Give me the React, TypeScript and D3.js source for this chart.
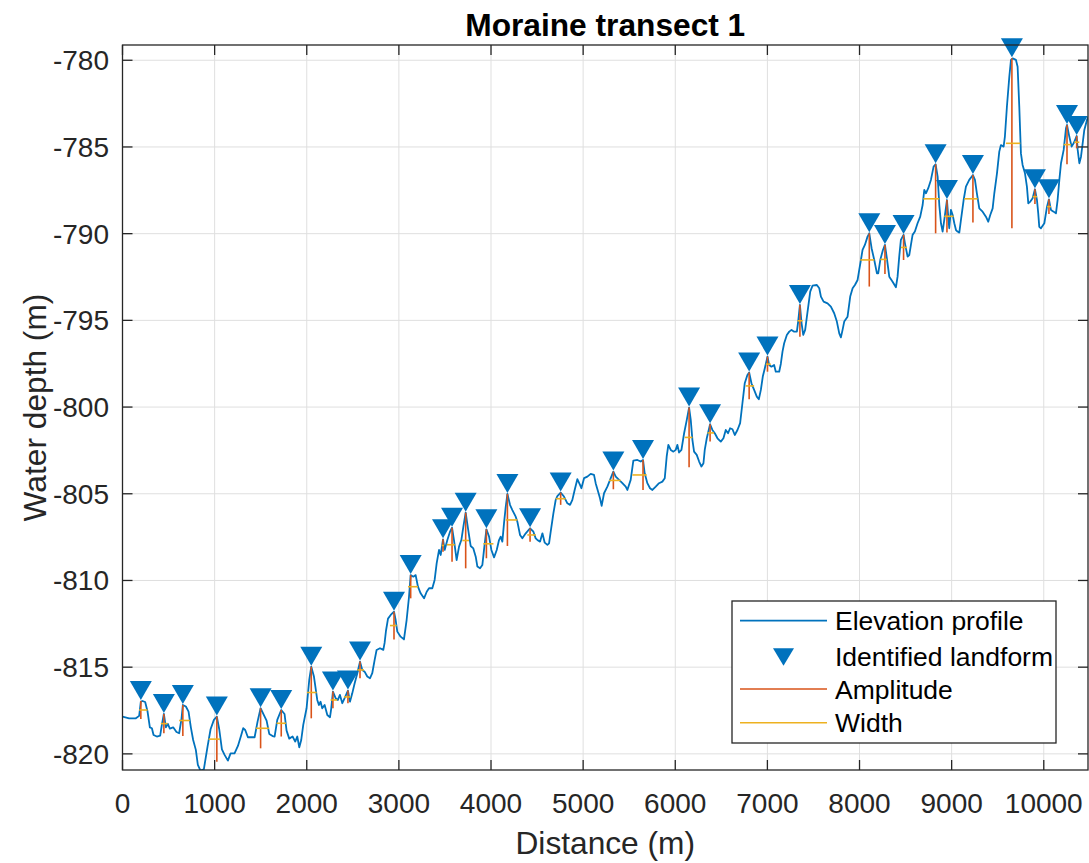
import React from 'react';
import * as d3 from 'd3';

// Elevation profile (distance in m, water depth in m)
const distance = [
  0, 72, 145, 181, 199, 217, 246, 272, 297, 319, 337, 373, 409, 427, 449, 471, 492, 514, 550, 586,
  615, 641, 655, 688, 717, 742, 767, 796, 818, 847, 883, 923, 956, 992, 1024, 1050, 1079, 1108, 1144, 1173,
  1216, 1253, 1289, 1310, 1332, 1361, 1434, 1466, 1499, 1535, 1564, 1593, 1629, 1651, 1680, 1723, 1759, 1781, 1810, 1846,
  1875, 1897, 1919, 1940, 1962, 1998, 2027, 2049, 2078, 2114, 2132, 2150, 2168, 2194, 2223, 2252, 2266, 2284, 2313, 2338,
  2360, 2386, 2411, 2447, 2469, 2494, 2520, 2549, 2578, 2603, 2628, 2657, 2686, 2711, 2737, 2758, 2795, 2831, 2845, 2860,
  2882, 2911, 2947, 2965, 2983, 3019, 3055, 3084, 3110, 3128, 3157, 3182, 3207, 3236, 3273, 3302, 3327, 3363, 3388, 3410,
  3436, 3454, 3479, 3497, 3526, 3555, 3577, 3598, 3627, 3653, 3678, 3700, 3725, 3750, 3779, 3808, 3834, 3852, 3881, 3906,
  3924, 3950, 3979, 4004, 4033, 4062, 4087, 4105, 4123, 4141, 4160, 4178, 4207, 4232, 4268, 4286, 4315, 4340, 4377, 4424,
  4460, 4485, 4503, 4532, 4558, 4583, 4612, 4630, 4648, 4677, 4702, 4720, 4756, 4792, 4829, 4858, 4883, 4908, 4937, 4966,
  4981, 5010, 5046, 5082, 5118, 5136, 5162, 5183, 5201, 5227, 5263, 5292, 5328, 5354, 5390, 5426, 5462, 5480, 5516, 5545,
  5589, 5625, 5650, 5668, 5697, 5726, 5752, 5788, 5824, 5860, 5886, 5907, 5925, 5951, 5980, 6005, 6023, 6041, 6067, 6096,
  6125, 6150, 6168, 6186, 6204, 6233, 6259, 6284, 6306, 6320, 6342, 6378, 6403, 6429, 6458, 6494, 6523, 6548, 6573, 6595,
  6621, 6646, 6675, 6704, 6729, 6754, 6783, 6802, 6827, 6856, 6885, 6907, 6929, 6950, 6972, 7001, 7019, 7044, 7073, 7091,
  7128, 7146, 7164, 7182, 7211, 7237, 7262, 7291, 7320, 7334, 7353, 7371, 7389, 7410, 7436, 7465, 7490, 7537, 7563, 7581,
  7610, 7653, 7689, 7725, 7754, 7780, 7798, 7816, 7834, 7870, 7899, 7925, 7950, 7979, 7997, 8015, 8033, 8058, 8087, 8106,
  8131, 8160, 8189, 8203, 8225, 8254, 8276, 8297, 8323, 8359, 8395, 8413, 8431, 8449, 8478, 8493, 8522, 8540, 8558, 8576,
  8601, 8630, 8659, 8685, 8703, 8721, 8746, 8775, 8804, 8826, 8848, 8866, 8884, 8902, 8920, 8949, 8963, 8974, 8992, 9011,
  9029, 9047, 9064, 9083, 9101, 9130, 9155, 9191, 9231, 9253, 9274, 9300, 9336, 9372, 9397, 9419, 9445, 9463, 9492, 9517,
  9535, 9564, 9578, 9600, 9626, 9644, 9662, 9698, 9716, 9734, 9752, 9770, 9796, 9817, 9832, 9854, 9879, 9904, 9926, 9940,
  9951, 9969, 10006, 10035, 10056, 10078, 10107, 10132, 10150, 10169, 10187, 10216, 10241, 10252, 10277, 10302, 10324, 10357, 10368, 10386,
  10404, 10422, 10440, 10469, 10494,
];
const depth = [
  -817.85, -817.95, -817.95, -817.81, -816.99, -816.95, -817.01, -817.56, -818.47, -818.52, -818.91, -819.0, -818.95, -818.33, -817.7, -818.47, -818.27, -818.54, -818.47, -818.74,
  -818.81, -817.95, -817.18, -817.27, -817.56, -818.47, -819.2, -819.77, -820.64, -820.97, -820.89, -819.58, -818.58, -818.04, -817.85, -818.58, -819.74, -820.06, -820.39, -819.97,
  -819.97, -819.54, -818.91, -818.52, -818.62, -819.04, -819.04, -818.14, -817.37, -817.76, -818.08, -818.85, -818.97, -819.0, -818.04, -817.47, -817.7, -818.66, -819.12, -819.0,
  -819.29, -819.0, -819.62, -819.2, -818.33, -817.37, -815.74, -814.97, -815.54, -816.89, -817.18, -816.99, -817.37, -817.18, -817.76, -817.89, -817.37, -816.41, -816.79, -816.89,
  -816.6, -817.08, -816.79, -816.35, -816.99, -816.51, -815.93, -815.35, -814.68, -815.16, -815.26, -815.54, -815.64, -815.35, -814.58, -814.01, -813.91, -814.0, -813.6, -812.9,
  -812.2, -811.99, -811.8, -812.28, -812.95, -813.24, -813.4, -812.28, -810.94, -809.69, -809.78, -809.69, -810.36, -810.74, -811.03, -810.65, -810.45, -810.45, -809.97, -809.01,
  -808.24, -808.53, -807.63, -808.24, -807.67, -807.19, -806.96, -807.67, -808.82, -808.05, -807.67, -806.9, -806.09, -806.99, -808.01, -808.15, -808.63, -809.2, -809.3, -809.11,
  -808.24, -807.05, -807.47, -808.24, -808.67, -808.24, -807.67, -807.47, -807.76, -806.71, -805.74, -805.01, -805.65, -805.94, -806.32, -806.61, -807.38, -807.57, -807.28, -806.99,
  -807.19, -807.57, -807.66, -807.76, -807.28, -807.82, -807.95, -807.86, -807.18, -806.13, -805.36, -805.13, -804.93, -805.16, -805.55, -805.64, -805.35, -804.78, -804.16, -804.49,
  -804.68, -804.1, -804.01, -803.85, -803.91, -804.39, -804.87, -805.26, -805.7, -804.97, -804.59, -804.2, -803.72, -804.01, -804.2, -804.39, -804.59, -804.78, -804.2, -803.09,
  -803.05, -803.14, -803.05, -803.82, -804.39, -804.68, -804.78, -804.59, -804.39, -804.3, -804.1, -802.85, -802.18, -802.47, -802.57, -802.47, -802.18, -802.62, -802.47, -801.51,
  -800.74, -800.03, -800.74, -801.89, -802.57, -802.76, -803.14, -803.43, -803.24, -802.47, -801.8, -800.99, -801.32, -801.51, -801.8, -801.99, -801.8, -801.32, -801.51, -801.22,
  -801.28, -801.61, -801.32, -800.93, -799.78, -798.63, -798.15, -798.01, -798.63, -799.01, -799.4, -799.55, -799.01, -798.24, -797.76, -797.09, -797.57, -797.67, -797.57, -797.96,
  -797.96, -797.5, -796.8, -796.32, -795.84, -795.65, -795.55, -795.65, -795.65, -795.07, -794.11, -795.17, -795.84, -795.55, -794.5, -793.34, -793.0, -792.96, -793.15, -793.63,
  -793.92, -794.02, -794.21, -794.59, -795.07, -795.75, -795.98, -795.55, -795.07, -794.79, -793.63, -793.15, -792.96, -792.67, -792.09, -791.52, -790.94, -790.65, -790.17, -789.98,
  -790.84, -791.52, -792.29, -792.29, -791.52, -790.94, -790.65, -791.42, -792.48, -792.77, -793.09, -792.48, -791.32, -790.36, -790.07, -790.56, -791.32, -791.23, -790.65, -790.07,
  -789.88, -789.4, -789.02, -788.35, -787.48, -787.67, -787.38, -786.9, -786.13, -786.0, -786.71, -788.35, -789.4, -789.88, -789.21, -788.06, -789.02, -789.69, -788.63, -788.92,
  -789.4, -789.79, -789.88, -789.94, -789.21, -788.06, -787.29, -786.9, -786.62, -786.9, -787.67, -788.54, -788.73, -789.02, -789.31, -788.92, -788.54, -787.67, -786.52, -785.27,
  -784.89, -784.98, -784.4, -782.67, -780.94, -779.98, -779.89, -779.98, -780.37, -782.67, -785.37, -786.04, -786.52, -787.29, -788.25, -788.15, -787.96, -787.44, -788.06, -788.83,
  -789.6, -789.69, -789.4, -788.44, -788.02, -788.63, -788.73, -788.83, -788.06, -786.9, -785.94, -785.17, -783.92, -783.73, -784.4, -784.98, -784.79, -784.37, -785.17, -785.94,
  -785.56, -784.79, -784.02, -783.44, -783.16,
];

// Identified landforms
const peakDistance = [
  199, 449, 655, 1024, 1499, 1723, 2049, 2284, 2447, 2578, 2947, 3128, 3479, 3577, 3725, 3950, 4178, 4424, 4756,
  5328, 5650, 6150, 6378, 6802, 7001, 7353, 8106, 8276, 8478, 8826, 8949, 9231, 9654, 9904, 10056, 10252, 10357,
];
const peakDepth = [
  -816.95, -817.7, -817.18, -817.85, -817.37, -817.47, -814.97, -816.41, -816.35, -814.68, -811.8, -809.69, -807.63, -806.96, -806.09, -807.05, -805.01, -806.99, -804.93,
  -803.72, -803.05, -800.03, -800.99, -798.01, -797.09, -794.11, -789.98, -790.65, -790.07, -786.0, -788.06, -786.62, -779.89, -787.44, -788.02, -783.73, -784.37,
];
// Bottom of the amplitude (prominence) line
const amplitudeBase = [
  -817.99, -818.81, -818.97, -820.45, -819.68, -819.0, -817.95, -817.37, -817.08, -815.64, -813.4, -811.03, -808.34, -808.92, -809.3, -808.72, -808.01, -807.76, -805.64,
  -804.74, -804.78, -803.47, -801.99, -799.55, -797.96, -795.94, -793.05, -792.32, -791.52, -789.98, -789.94, -789.36, -789.69, -788.29, -788.86, -786.0, -785.08,
];
// Extent of the width line
const widthStart = [
  181, 416, 615, 934, 1448, 1672, 2002, 2259, 2404, 2549, 2903, 3099, 3465, 3519, 3689, 3917, 4160, 4395, 4702,
  5281, 5535, 6103, 6349, 6765, 6983, 7327, 8008, 8225, 8449, 8692, 8920, 9137, 9589, 9879, 10035, 10216, 10331,
];
const widthEnd = [
  272, 489, 731, 1057, 1593, 1774, 2107, 2331, 2476, 2621, 2976, 3207, 3490, 3606, 3761, 4026, 4286, 4485, 4811,
  5408, 5690, 6186, 6421, 6856, 7037, 7382, 8160, 8297, 8515, 8866, 9021, 9282, 9745, 9926, 10078, 10295, 10386,
];

const xTicks = [0, 1000, 2000, 3000, 4000, 5000, 6000, 7000, 8000, 9000, 10000];
const yTicks = [-820, -815, -810, -805, -800, -795, -790, -785, -780];
const legendLabels = ['Elevation profile', 'Identified landform', 'Amplitude', 'Width'];

const BLUE = '#0072BD';
const ORANGE = '#D95319';
const YELLOW = '#EDB120';
const AX = '#262626';
const FONT = '"Liberation Sans", Arial, Helvetica, sans-serif';

export default function App() {
  const W = 1089;
  const H = 863;
  const L = 122.5, R = 1088, T = 45, B = 770;
  const x = d3.scaleLinear().domain([0, 10480]).range([L, R]);
  const y = d3.scaleLinear().domain([-820.93, -779.12]).range([B, T]);

  const profilePath = d3.line<number>()
    .x((_, i) => x(distance[i]))
    .y((d) => y(d))(depth) || '';

  const tri = (cx: number, tipY: number) =>
    `M${cx},${tipY} L${cx - 11},${tipY - 19} L${cx + 11},${tipY - 19} Z`;

  const legX = 732, legY = 601, legW = 324, legH = 142;
  const rowY = [620.7, 656.7, 689, 722.7];

  return (
    <svg width={W} height={H} style={{ position: 'absolute', left: 0, top: 0, background: '#fff' }} fontFamily={FONT}>
      <rect x={0} y={0} width={W} height={H} fill="#fff" />
      <defs>
        <clipPath id="plotclip">
          <rect x={L} y={T} width={R - L} height={B - T} />
        </clipPath>
      </defs>
      {/* grid */}
      <g stroke="#dfdfdf" strokeWidth={1}>
        {xTicks.map((t) => (
          <line key={'gx' + t} x1={x(t)} x2={x(t)} y1={T} y2={B} />
        ))}
        {yTicks.map((t) => (
          <line key={'gy' + t} x1={L} x2={R} y1={y(t)} y2={y(t)} />
        ))}
      </g>
      {/* profile */}
      <path d={profilePath} fill="none" stroke={BLUE} strokeWidth={1.8} clipPath="url(#plotclip)" strokeLinejoin="round" />
      {/* landform markers */}
      <g fill={BLUE}>
        {peakDistance.map((d, i) => (
          <path key={'m' + i} d={tri(x(d), y(peakDepth[i]) - 1)} />
        ))}
      </g>
      {/* amplitude */}
      <g stroke={ORANGE} strokeWidth={1.6}>
        {peakDistance.map((d, i) => (
          <line key={'a' + i} x1={x(d)} x2={x(d)} y1={y(peakDepth[i])} y2={y(amplitudeBase[i])} />
        ))}
      </g>
      {/* width */}
      <g stroke={YELLOW} strokeWidth={1.6}>
        {peakDistance.map((d, i) => {
          const wy = y((peakDepth[i] + amplitudeBase[i]) / 2);
          return <line key={'w' + i} x1={x(widthStart[i])} x2={x(widthEnd[i])} y1={wy} y2={wy} />;
        })}
      </g>
      {/* axes box and ticks */}
      <g stroke={AX} strokeWidth={1.3} fill="none">
        <rect x={L} y={T} width={R - L} height={B - T} />
        {xTicks.map((t) => (
          <g key={'tx' + t}>
            <line x1={x(t)} x2={x(t)} y1={B} y2={B - 10} />
            <line x1={x(t)} x2={x(t)} y1={T} y2={T + 10} />
          </g>
        ))}
        {yTicks.map((t) => (
          <g key={'ty' + t}>
            <line x1={L} x2={L + 10} y1={y(t)} y2={y(t)} />
            <line x1={R} x2={R - 10} y1={y(t)} y2={y(t)} />
          </g>
        ))}
      </g>
      <g fill={AX} fontSize={28}>
        {xTicks.map((t) => (
          <text key={'lx' + t} x={x(t)} y={812.5} textAnchor="middle">{t}</text>
        ))}
        {yTicks.map((t) => (
          <text key={'ly' + t} x={109} y={y(t) + 10} textAnchor="end">{t}</text>
        ))}
      </g>
      <text x={(L + R) / 2} y={854} textAnchor="middle" fontSize={31.7} fill={AX}>Distance (m)</text>
      <text transform={`translate(46,${(T + B) / 2}) rotate(-90)`} textAnchor="middle" fontSize={31.7} fill={AX}>Water depth (m)</text>
      <text x={(L + R) / 2} y={36} textAnchor="middle" fontSize={31.7} fontWeight="bold" fill="#000">Moraine transect 1</text>
      {/* legend */}
      <g>
        <rect x={legX} y={legY} width={legW} height={legH} fill="#fff" stroke={AX} strokeWidth={1.3} />
        <line x1={740} x2={827} y1={rowY[0]} y2={rowY[0]} stroke={BLUE} strokeWidth={1.8} />
        <path d={`M783.5,${rowY[1] + 9} L${783.5 - 10.5},${rowY[1] - 8.5} L${783.5 + 10.5},${rowY[1] - 8.5} Z`} fill={BLUE} />
        <line x1={740} x2={827} y1={rowY[2]} y2={rowY[2]} stroke={ORANGE} strokeWidth={1.6} />
        <line x1={740} x2={827} y1={rowY[3]} y2={rowY[3]} stroke={YELLOW} strokeWidth={1.6} />
        {legendLabels.map((s, i) => (
          <text key={s} x={835} y={rowY[i] + 9.5} fontSize={26.5} fill="#000">{s}</text>
        ))}
      </g>
    </svg>
  );
}
